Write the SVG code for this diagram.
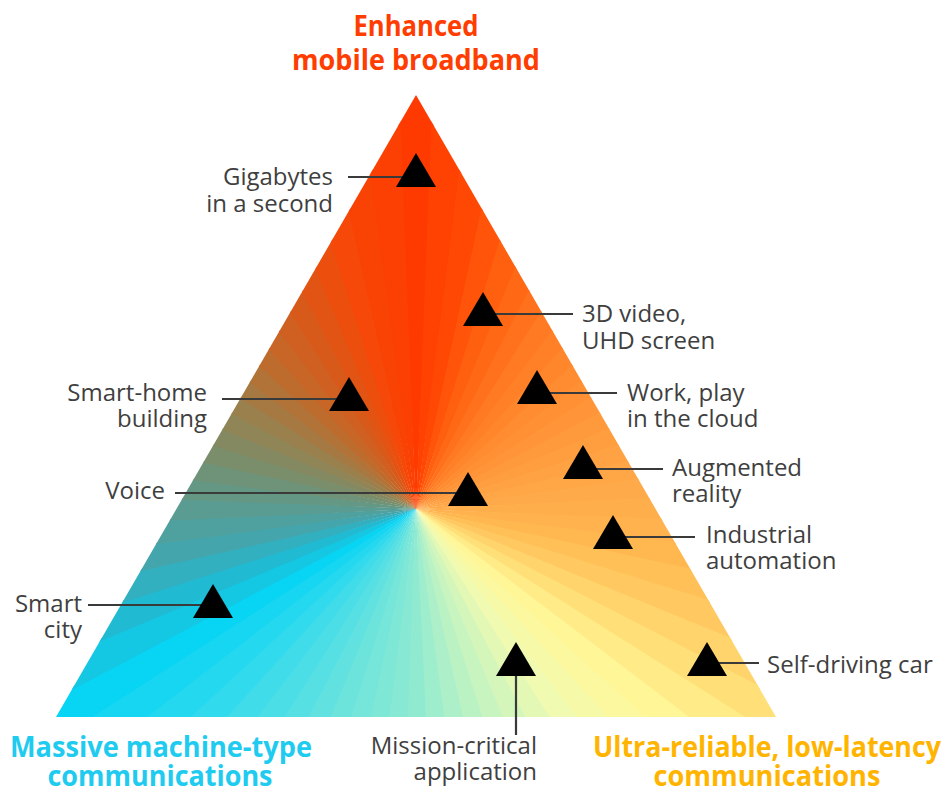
<svg xmlns="http://www.w3.org/2000/svg" xmlns:xlink="http://www.w3.org/1999/xlink" width="946" height="793" viewBox="0 0 946 793">
<style>
.lbl{font-family:"Open Sans","Liberation Sans",sans-serif;font-size:24px;fill:#3f3f3f}
.ttl{font-family:"Open Sans","Liberation Sans",sans-serif;font-size:29px;font-weight:700;text-anchor:middle}
.conn line{stroke:#3a3a3a;stroke-width:2.2;stroke-linecap:butt}
.mk{fill:#000}
</style>
<defs>
<clipPath id="triClip"><polygon points="416,95 776,717 56,717"/></clipPath>
<path id="w" d="M0,0 L-38,-800 L38,-800 Z"/>
<polygon id="tri" points="0,0 -20,34 20,34"/>
</defs>
<rect width="946" height="793" fill="#fff"/>
<g id="gradient-triangle" clip-path="url(#triClip)">
<g transform="translate(416,509)">
<use href="#w" transform="rotate(0)" fill="#ff3a00"/>
<use href="#w" transform="rotate(5)" fill="#ff4102"/>
<use href="#w" transform="rotate(10)" fill="#ff4804"/>
<use href="#w" transform="rotate(15)" fill="#ff540a"/>
<use href="#w" transform="rotate(20)" fill="#ff6010"/>
<use href="#w" transform="rotate(25)" fill="#ff6916"/>
<use href="#w" transform="rotate(30)" fill="#ff711c"/>
<use href="#w" transform="rotate(35)" fill="#ff7a22"/>
<use href="#w" transform="rotate(40)" fill="#ff8027"/>
<use href="#w" transform="rotate(45)" fill="#ff862b"/>
<use href="#w" transform="rotate(50)" fill="#ff8c30"/>
<use href="#w" transform="rotate(55)" fill="#ff9134"/>
<use href="#w" transform="rotate(60)" fill="#ff9538"/>
<use href="#w" transform="rotate(65)" fill="#ff9a3c"/>
<use href="#w" transform="rotate(70)" fill="#ff9e3f"/>
<use href="#w" transform="rotate(75)" fill="#ffa243"/>
<use href="#w" transform="rotate(80)" fill="#ffa646"/>
<use href="#w" transform="rotate(85)" fill="#ffaa4a"/>
<use href="#w" transform="rotate(90)" fill="#ffae4c"/>
<use href="#w" transform="rotate(95)" fill="#ffb24e"/>
<use href="#w" transform="rotate(100)" fill="#ffb850"/>
<use href="#w" transform="rotate(105)" fill="#ffc058"/>
<use href="#w" transform="rotate(110)" fill="#ffc860"/>
<use href="#w" transform="rotate(115)" fill="#ffd46c"/>
<use href="#w" transform="rotate(120)" fill="#ffe078"/>
<use href="#w" transform="rotate(125)" fill="#ffec88"/>
<use href="#w" transform="rotate(130)" fill="#fff698"/>
<use href="#w" transform="rotate(135)" fill="#fbf8a0"/>
<use href="#w" transform="rotate(140)" fill="#f5f9a8"/>
<use href="#w" transform="rotate(145)" fill="#f0fab0"/>
<use href="#w" transform="rotate(150)" fill="#e3f8b5"/>
<use href="#w" transform="rotate(155)" fill="#d5f6bb"/>
<use href="#w" transform="rotate(160)" fill="#c8f4c0"/>
<use href="#w" transform="rotate(165)" fill="#baf2c4"/>
<use href="#w" transform="rotate(170)" fill="#acefc8"/>
<use href="#w" transform="rotate(175)" fill="#9eedcc"/>
<use href="#w" transform="rotate(180)" fill="#90ead0"/>
<use href="#w" transform="rotate(185)" fill="#87e9d3"/>
<use href="#w" transform="rotate(190)" fill="#7ee7d6"/>
<use href="#w" transform="rotate(195)" fill="#75e6d9"/>
<use href="#w" transform="rotate(200)" fill="#6ce4dc"/>
<use href="#w" transform="rotate(205)" fill="#61e2e0"/>
<use href="#w" transform="rotate(210)" fill="#56e0e3"/>
<use href="#w" transform="rotate(215)" fill="#4bdee7"/>
<use href="#w" transform="rotate(220)" fill="#40dcea"/>
<use href="#w" transform="rotate(225)" fill="#32daed"/>
<use href="#w" transform="rotate(230)" fill="#24d8ef"/>
<use href="#w" transform="rotate(235)" fill="#16d6f2"/>
<use href="#w" transform="rotate(240)" fill="#08d4f4"/>
<use href="#w" transform="rotate(245)" fill="#14c7e3"/>
<use href="#w" transform="rotate(250)" fill="#20bad2"/>
<use href="#w" transform="rotate(255)" fill="#32b0bf"/>
<use href="#w" transform="rotate(260)" fill="#44a6ac"/>
<use href="#w" transform="rotate(265)" fill="#4fa19f"/>
<use href="#w" transform="rotate(270)" fill="#5a9c92"/>
<use href="#w" transform="rotate(275)" fill="#659785"/>
<use href="#w" transform="rotate(280)" fill="#6f9379"/>
<use href="#w" transform="rotate(285)" fill="#7a8e6c"/>
<use href="#w" transform="rotate(290)" fill="#858961"/>
<use href="#w" transform="rotate(295)" fill="#8f8557"/>
<use href="#w" transform="rotate(300)" fill="#9a804c"/>
<use href="#w" transform="rotate(305)" fill="#a67942"/>
<use href="#w" transform="rotate(310)" fill="#b27338"/>
<use href="#w" transform="rotate(315)" fill="#be6c2e"/>
<use href="#w" transform="rotate(320)" fill="#c76627"/>
<use href="#w" transform="rotate(325)" fill="#cf6021"/>
<use href="#w" transform="rotate(330)" fill="#d85a1a"/>
<use href="#w" transform="rotate(335)" fill="#e25414"/>
<use href="#w" transform="rotate(340)" fill="#ec4e0e"/>
<use href="#w" transform="rotate(345)" fill="#f64808"/>
<use href="#w" transform="rotate(350)" fill="#f94305"/>
<use href="#w" transform="rotate(355)" fill="#fc3f03"/>
</g>
</g>
<g id="titles">
<text class="ttl" x="416" y="36" fill="#ff3d00" textLength="125" lengthAdjust="spacingAndGlyphs">Enhanced</text>
<text class="ttl" x="416" y="70" fill="#ff3d00" textLength="248" lengthAdjust="spacingAndGlyphs">mobile broadband</text>
<text class="ttl" x="161" y="757" fill="#1fcbef" textLength="302" lengthAdjust="spacingAndGlyphs">Massive machine-type</text>
<text class="ttl" x="160" y="786" fill="#1fcbef" textLength="225" lengthAdjust="spacingAndGlyphs">communications</text>
<text class="ttl" x="767" y="757" fill="#ffb400" textLength="348" lengthAdjust="spacingAndGlyphs">Ultra-reliable, low-latency</text>
<text class="ttl" x="767" y="786" fill="#ffb400" textLength="227" lengthAdjust="spacingAndGlyphs">communications</text>
</g>
<g id="connectors" class="conn">
<line x1="348" y1="177" x2="416" y2="177"/>
<line x1="483" y1="314" x2="573" y2="314"/>
<line x1="537" y1="393" x2="617" y2="393"/>
<line x1="583" y1="469" x2="663" y2="469"/>
<line x1="613" y1="537" x2="695" y2="537"/>
<line x1="707" y1="663" x2="759" y2="663"/>
<line x1="516" y1="676" x2="516" y2="735"/>
<line x1="222" y1="399" x2="349" y2="399"/>
<line x1="175" y1="493" x2="468" y2="493"/>
<line x1="88" y1="605" x2="213" y2="605"/>
</g>
<g id="n-gigabytes"><use href="#tri" class="mk" x="416" y="153"/><text class="lbl" text-anchor="end" x="333" y="185">Gigabytes</text><text class="lbl" text-anchor="end" x="333" y="212">in a second</text></g>
<g id="n-3dvideo"><use href="#tri" class="mk" x="483" y="292"/><text class="lbl" x="582" y="322">3D video,</text><text class="lbl" x="582" y="349">UHD screen</text></g>
<g id="n-cloud"><use href="#tri" class="mk" x="537" y="370"/><text class="lbl" x="627" y="401">Work, play</text><text class="lbl" x="627" y="427">in the cloud</text></g>
<g id="n-ar"><use href="#tri" class="mk" x="583" y="445"/><text class="lbl" x="672" y="476">Augmented</text><text class="lbl" x="672" y="502">reality</text></g>
<g id="n-industrial"><use href="#tri" class="mk" x="613" y="515"/><text class="lbl" x="706" y="543">Industrial</text><text class="lbl" x="706" y="569">automation</text></g>
<g id="n-car"><use href="#tri" class="mk" x="707" y="642"/><text class="lbl" x="767" y="673">Self-driving car</text></g>
<g id="n-mission"><use href="#tri" class="mk" x="516" y="642"/><text class="lbl" text-anchor="end" x="537" y="754">Mission-critical</text><text class="lbl" text-anchor="end" x="537" y="780">application</text></g>
<g id="n-smarthome"><use href="#tri" class="mk" x="349" y="377"/><text class="lbl" text-anchor="end" x="207" y="401">Smart-home</text><text class="lbl" text-anchor="end" x="207" y="427">building</text></g>
<g id="n-voice"><use href="#tri" class="mk" x="468" y="472"/><text class="lbl" text-anchor="end" x="165" y="499">Voice</text></g>
<g id="n-smartcity"><use href="#tri" class="mk" x="213" y="584"/><text class="lbl" text-anchor="end" x="82" y="612">Smart</text><text class="lbl" text-anchor="end" x="82" y="638">city</text></g>
</svg>
